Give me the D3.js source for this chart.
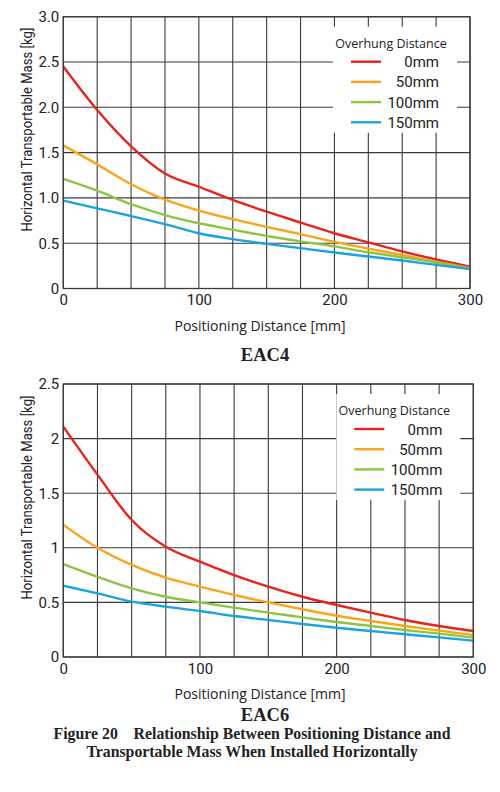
<!DOCTYPE html>
<html>
<head>
<meta charset="utf-8">
<script src="https://cdn.jsdelivr.net/npm/d3@7"></script>
<style>
  body { margin: 0; background: #fff; }
  svg text { fill: #222; }
</style>
</head>
<body>
<svg id="chart" width="500" height="792"></svg>
<script>
// positioning distance, mm
const positions = [0, 25, 50, 75, 100, 125, 150, 175, 200, 225, 250, 275, 300];
const overhangs = ["0mm", "50mm", "100mm", "150mm"];
const colors = ["#e8231d", "#f9a51a", "#8cc63f", "#1aa3e0"];

// EAC4 transportable mass [kg]
const eac4_0   = [2.45, 1.97, 1.57, 1.27, 1.123, 0.977, 0.848, 0.728, 0.61, 0.51, 0.41, 0.32, 0.24];
const eac4_50  = [1.58, 1.37, 1.15, 0.98, 0.86, 0.765, 0.68, 0.60, 0.515, 0.44, 0.37, 0.295, 0.225];
const eac4_100 = [1.21, 1.08, 0.93, 0.81, 0.72, 0.65, 0.58, 0.52, 0.465, 0.40, 0.345, 0.287, 0.217];
const eac4_150 = [0.97, 0.885, 0.80, 0.71, 0.61, 0.545, 0.493, 0.445, 0.397, 0.353, 0.309, 0.261, 0.214];
const eac4_ticks = ["0", "0.5", "1.0", "1.5", "2.0", "2.5", "3.0"];

// EAC6 transportable mass [kg]
const eac6_0   = [2.11, 1.67, 1.255, 1.01, 0.873, 0.75, 0.644, 0.552, 0.476, 0.406, 0.339, 0.284, 0.238];
const eac6_50  = [1.21, 1.0, 0.843, 0.726, 0.644, 0.568, 0.50, 0.437, 0.378, 0.33, 0.284, 0.241, 0.20];
const eac6_100 = [0.852, 0.735, 0.629, 0.552, 0.50, 0.452, 0.406, 0.363, 0.32, 0.284, 0.247, 0.214, 0.177];
const eac6_150 = [0.653, 0.583, 0.507, 0.461, 0.421, 0.375, 0.339, 0.302, 0.268, 0.238, 0.208, 0.18, 0.149];
const eac6_ticks = ["0", "0.5", "1", "1.5", "2", "2.5"];

const xTicks = [0, 100, 200, 300];

const svg = d3.select("#chart");

function drawPanel(opt) {
  const { left, right, top, bottom, yMax, yTicks, series, name, titleY } = opt;
  const x = d3.scaleLinear().domain([0, 300]).range([left, right]);
  const y = d3.scaleLinear().domain([0, yMax]).range([bottom, top]);
  const g = svg.append("g");

  // grid
  g.append("g").selectAll("line").data(positions).join("line")
    .attr("x1", d => x(d)).attr("x2", d => x(d))
    .attr("y1", top).attr("y2", bottom)
    .attr("stroke", "#3a3a3a").attr("stroke-width", 1.1);
  g.append("g").selectAll("line").data(yTicks).join("line")
    .attr("x1", left).attr("x2", right)
    .attr("y1", d => y(+d)).attr("y2", d => y(+d))
    .attr("stroke", "#3a3a3a").attr("stroke-width", 1.1);

  // white legend area
  const lx = right - 137, ly = top + 10;
  g.append("rect")
    .attr("x", lx).attr("y", ly).attr("width", 124).attr("height", 106)
    .attr("fill", "#fff");

  // curves
  const line = d3.line()
    .x((d, i) => x(positions[i]))
    .y(d => y(d))
    .curve(d3.curveMonotoneX);
  g.append("g").selectAll("path").data(series).join("path")
    .attr("d", d => line(d))
    .attr("fill", "none")
    .attr("stroke", (d, i) => colors[i])
    .attr("stroke-width", 2.4);

  // axes (labels only)
  const yAxis = g.append("g")
    .attr("transform", `translate(${left},0)`)
    .call(d3.axisLeft(y).tickValues(yTicks.map(Number)).tickSize(0).tickPadding(4)
      .tickFormat((d, i) => yTicks[i]));
  yAxis.select(".domain").remove();
  yAxis.selectAll("text")
    .attr("font-family", "Roboto, 'Liberation Sans', sans-serif")
    .attr("font-size", 15).attr("fill", "#222");

  const xAxis = g.append("g")
    .attr("transform", `translate(0,${bottom})`)
    .call(d3.axisBottom(x).tickValues(xTicks).tickSize(0).tickPadding(6));
  xAxis.select(".domain").remove();
  xAxis.selectAll("text")
    .attr("font-family", "Roboto, 'Liberation Sans', sans-serif")
    .attr("font-size", 15).attr("fill", "#222");

  // frame
  g.append("rect")
    .attr("x", left).attr("y", top)
    .attr("width", right - left).attr("height", bottom - top)
    .attr("fill", "none").attr("stroke", "#3a3a3a").attr("stroke-width", 1.3);

  // axis titles
  g.append("text")
    .attr("transform", `translate(32,${(top + bottom) / 2 - 23}) rotate(-90)`)
    .attr("text-anchor", "middle")
    .attr("font-family", "Roboto, sans-serif").attr("font-size", 14.5)
    .attr("textLength", 204).attr("lengthAdjust", "spacingAndGlyphs")
    .text("Horizontal Transportable Mass [kg]");
  g.append("text")
    .attr("x", 260).attr("y", bottom + 42)
    .attr("text-anchor", "middle")
    .attr("font-family", "'Open Sans', sans-serif").attr("font-size", 14)
    .text("Positioning Distance [mm]");
  g.append("text")
    .attr("x", 265).attr("y", titleY)
    .attr("text-anchor", "middle")
    .attr("font-family", "'Liberation Serif', serif").attr("font-weight", "bold")
    .attr("font-size", 18.5)
    .text(name);

  // legend
  const leg = g.append("g");
  leg.append("text")
    .attr("x", lx + 58).attr("y", ly + 21)
    .attr("text-anchor", "middle")
    .attr("font-family", "'Open Sans', sans-serif").attr("font-size", 12.5)
    .text("Overhung Distance");
  const items = leg.selectAll("g.item").data(overhangs).join("g")
    .attr("class", "item")
    .attr("transform", (d, i) => `translate(0,${ly + 35 + i * 20.2})`);
  items.append("line")
    .attr("x1", lx + 18).attr("x2", lx + 48)
    .attr("stroke", (d, i) => colors[i]).attr("stroke-width", 2.4);
  items.append("text")
    .attr("x", lx + 106).attr("y", 5.5)
    .attr("text-anchor", "end")
    .attr("font-family", "Roboto, sans-serif").attr("font-size", 15)
    .text(d => d);
}

drawPanel({
  left: 63.3, right: 470, top: 16.7, bottom: 288.5, yMax: 3.0,
  yTicks: eac4_ticks, series: [eac4_0, eac4_50, eac4_100, eac4_150],
  name: "EAC4", titleY: 361
});

drawPanel({
  left: 63.3, right: 473.3, top: 384, bottom: 657, yMax: 2.5,
  yTicks: eac6_ticks, series: [eac6_0, eac6_50, eac6_100, eac6_150],
  name: "EAC6", titleY: 721
});

// figure caption
const caption = svg.append("text")
  .attr("text-anchor", "middle")
  .attr("font-family", "'Liberation Serif', serif").attr("font-weight", "bold")
  .attr("font-size", 15.8);
caption.append("tspan").attr("x", 252).attr("y", 739)
  .attr("xml:space", "preserve")
  .text("Figure 20    Relationship Between Positioning Distance and");
caption.append("tspan").attr("x", 252).attr("y", 757)
  .text("Transportable Mass When Installed Horizontally");
</script>
</body>
</html>
